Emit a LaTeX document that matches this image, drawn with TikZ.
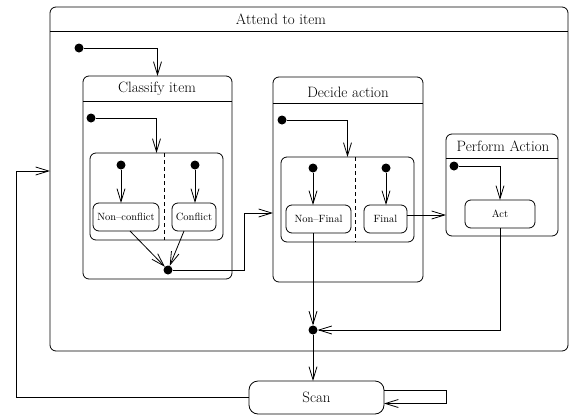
\documentclass[tikz,border=0pt]{standalone}
\usepackage{fontspec}
\usepackage{tikz}
\usetikzlibrary{
  arrows.meta,
  positioning
}
\definecolor{linecolor}{RGB}{0, 0, 0}
\definecolor{labelcolor}{RGB}{0, 0, 0}
\tikzset{
titletext/.style={
  font=\fontsize{15}{18}\selectfont,
  text=labelcolor,
  inner sep=0pt
},
compbox/.style={
  draw=linecolor,
  line width=0.8pt,
  rounded corners=6pt,
  inner sep=0pt,
  outer sep=0pt,
  anchor=north west
},
statebox/.style={
  draw=linecolor,
  line width=0.8pt,
  rounded corners=6pt,
  inner sep=0pt,
  outer sep=0pt,
  font=\fontsize{10.5}{12}\selectfont,
  text=labelcolor
},
initdot/.style={
  circle,
  fill=linecolor,
  minimum size=9pt,
  inner sep=0pt,
  outer sep=0pt
},
headline/.style={
  draw=linecolor,
  line width=0.8pt
},
divider/.style={
  draw=linecolor,
  line width=0.8pt,
  dash pattern=on 4pt off 3pt
},
arrow/.style={
  -{Straight Barb[length=13pt,width=8pt]},
  line width=0.8pt,
  draw=linecolor
}
}

\begin{document}
\begin{tikzpicture}[x=1pt, y=-1pt]
  \useasboundingbox (0,0) rectangle (571,416);

  % --- Attend to item ---
  \node[compbox, minimum width=518pt, minimum height=344pt] (attend) at (50,7) {};
  \coordinate (h0) at (0,31);
  \draw[headline] (attend.west |- h0) -- (attend.east |- h0);
  \node[titletext] (attendt) at (281,19) {Attend to item};
  \node[initdot] (i0) at (79,48) {};

  % --- Classify item ---
  \node[compbox, minimum width=149pt, minimum height=203pt] (cls) at (83,76) {};
  \coordinate (h1) at (0,101);
  \draw[headline] (cls.west |- h1) -- (cls.east |- h1);
  \node[titletext] (clst) at (157,89) {Classify item};
  \draw[arrow] (i0) -| (cls.north);
  \node[initdot] (i1) at (91,118) {};
  \node[compbox, minimum width=133pt, minimum height=87pt] (cc1) at (90,153) {};
  \coordinate (dv1) at (164,0);
  \draw[divider] (cc1.north -| dv1) -- (cc1.south -| dv1);
  \draw[arrow] (i1) -| (cc1.north);
  \node[initdot] (d11) at (121,165) {};
  \node[initdot] (d12) at (195,165) {};
  \node[statebox, minimum width=66pt, minimum height=28pt] (nc) at (126,217) {Non--conflict};
  \node[statebox, minimum width=44pt, minimum height=28pt] (cf) at (194,217) {Conflict};
  \draw[arrow] (d11) -- (d11 |- nc.north);
  \draw[arrow] (d12) -- (d12 |- cf.north);
  \node[initdot] (j1) at (168,270) {};
  \draw[arrow] ([xshift=4pt]nc.south) -- (j1);
  \draw[arrow] ([xshift=-10pt]cf.south) -- (j1);

  % --- Decide action ---
  \node[compbox, minimum width=150pt, minimum height=205pt] (dec) at (273,77) {};
  \coordinate (h2) at (0,103);
  \draw[headline] (dec.west |- h2) -- (dec.east |- h2);
  \node[titletext] (dect) at (348,92) {Decide action};
  \coordinate (k1) at (244,213);
  \draw[arrow] (j1) -| (k1) -- (k1 -| dec.west);
  \node[initdot] (i2) at (282,120) {};
  \node[compbox, minimum width=133pt, minimum height=85pt] (cc2) at (281,157) {};
  \coordinate (dv2) at (355,0);
  \draw[divider] (cc2.north -| dv2) -- (cc2.south -| dv2);
  \draw[arrow] (i2) -| (cc2.north);
  \node[initdot] (d21) at (313,168) {};
  \node[initdot] (d22) at (386,168) {};
  \node[statebox, minimum width=65pt, minimum height=28pt] (nf) at (318.5,219) {Non--Final};
  \node[statebox, minimum width=43pt, minimum height=28pt] (fn) at (385.5,219) {Final};
  \draw[arrow] (d21) -- (d21 |- nf.north);
  \draw[arrow] (d22) -- (d22 |- fn.north);

  % --- Perform Action ---
  \node[compbox, minimum width=112pt, minimum height=102pt] (perf) at (446,134) {};
  \coordinate (h3) at (0,158);
  \draw[headline] (perf.west |- h3) -- (perf.east |- h3);
  \node[titletext] (perft) at (503,146) {Perform Action};
  \draw[arrow] ([yshift=4pt]fn.east) -- ([yshift=4pt]fn.east -| perf.west);
  \node[initdot] (i3) at (454,166) {};
  \node[statebox, minimum width=70pt, minimum height=28pt] (act) at (500,214) {Act};
  \draw[arrow] (i3) -| (act.north);

  % --- join and Scan ---
  \node[initdot] (j2) at (313,330) {};
  \draw[arrow] (nf.south -| j2) -- (j2);
  \draw[arrow] (act.south) |- (j2);
  \node[statebox, rounded corners=9pt, minimum width=135pt, minimum height=33pt,
        font=\fontsize{15}{18}\selectfont] (scan) at (316.5,397.5) {Scan};
  \draw[arrow] (j2) -- (j2 |- scan.north);
  \draw[arrow] ([yshift=7pt]scan.east) -- ++(62,0) |- ([yshift=-6pt]scan.east);
  \coordinate (k2) at (16,171);
  \draw[arrow] (scan.west) -| (k2) -- (k2 -| attend.west);
\end{tikzpicture}
\end{document}
